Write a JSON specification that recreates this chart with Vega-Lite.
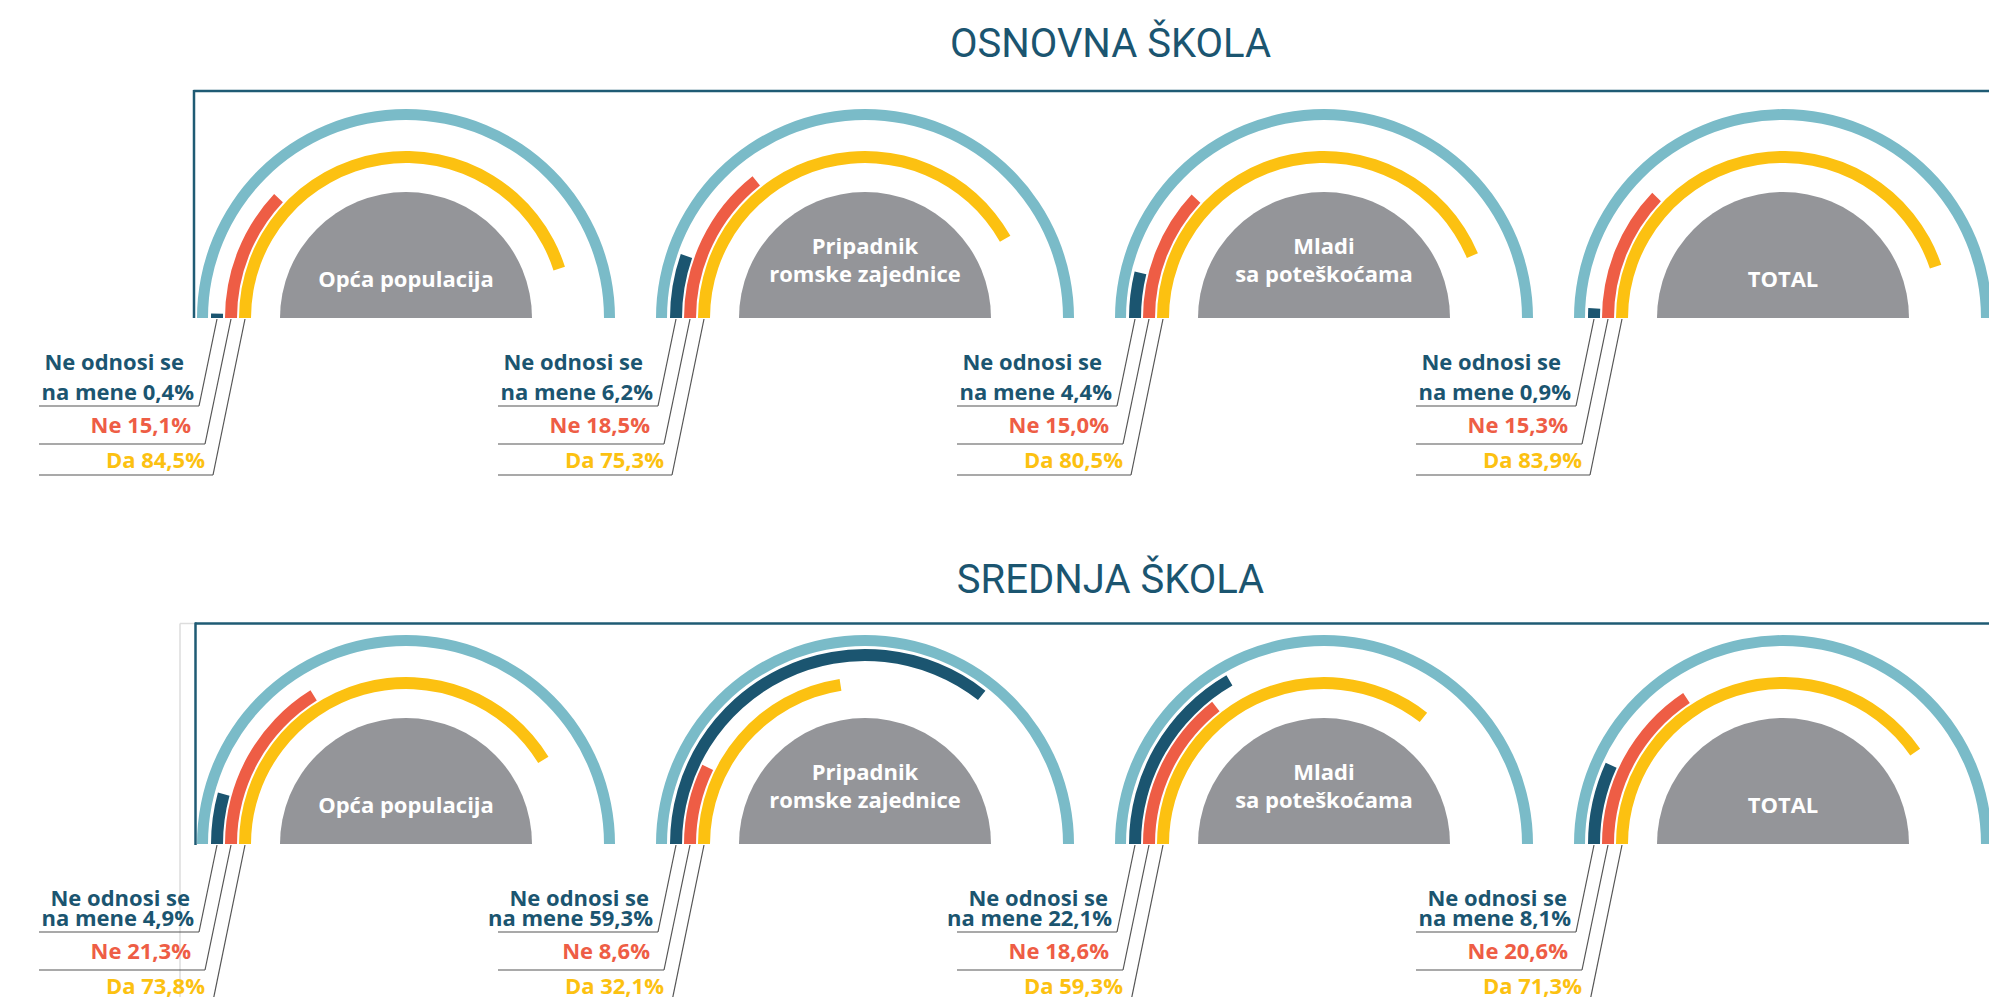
{
  "$schema": "https://vega.github.io/schema/vega-lite/v6.json",
  "width": 1989,
  "height": 997,
  "autosize": {"type": "none"},
  "padding": 0,
  "background": "white",
  "config": {
    "view": {"stroke": null},
    "axis": {"disable": true},
    "text": {"font": "Open Sans"}
  },
  "datasets": {
    "levels": [
      {"level": "OSNOVNA ŠKOLA"},
      {"level": "SREDNJA ŠKOLA"}
    ],
    "gauges": [
      {"level": "OSNOVNA ŠKOLA", "group": "Opća populacija", "name": "Opća populacija", "lines": 1},
      {"level": "OSNOVNA ŠKOLA", "group": "Pripadnik romske zajednice", "name": "Pripadnik\nromske zajednice", "lines": 2},
      {"level": "OSNOVNA ŠKOLA", "group": "Mladi sa poteškoćama", "name": "Mladi\nsa poteškoćama", "lines": 2},
      {"level": "OSNOVNA ŠKOLA", "group": "TOTAL", "name": "TOTAL", "lines": 1},
      {"level": "SREDNJA ŠKOLA", "group": "Opća populacija", "name": "Opća populacija", "lines": 1},
      {"level": "SREDNJA ŠKOLA", "group": "Pripadnik romske zajednice", "name": "Pripadnik\nromske zajednice", "lines": 2},
      {"level": "SREDNJA ŠKOLA", "group": "Mladi sa poteškoćama", "name": "Mladi\nsa poteškoćama", "lines": 2},
      {"level": "SREDNJA ŠKOLA", "group": "TOTAL", "name": "TOTAL", "lines": 1}
    ],
    "values": [
      {"level": "OSNOVNA ŠKOLA", "group": "Opća populacija", "answer": "Ne odnosi se na mene", "value": 0.4, "label": "na mene 0,4%"},
      {"level": "OSNOVNA ŠKOLA", "group": "Opća populacija", "answer": "Ne", "value": 15.1, "label": "Ne 15,1%"},
      {"level": "OSNOVNA ŠKOLA", "group": "Opća populacija", "answer": "Da", "value": 84.5, "label": "Da 84,5%"},
      {"level": "OSNOVNA ŠKOLA", "group": "Pripadnik romske zajednice", "answer": "Ne odnosi se na mene", "value": 6.2, "label": "na mene 6,2%"},
      {"level": "OSNOVNA ŠKOLA", "group": "Pripadnik romske zajednice", "answer": "Ne", "value": 18.5, "label": "Ne 18,5%"},
      {"level": "OSNOVNA ŠKOLA", "group": "Pripadnik romske zajednice", "answer": "Da", "value": 75.3, "label": "Da 75,3%"},
      {"level": "OSNOVNA ŠKOLA", "group": "Mladi sa poteškoćama", "answer": "Ne odnosi se na mene", "value": 4.4, "label": "na mene 4,4%"},
      {"level": "OSNOVNA ŠKOLA", "group": "Mladi sa poteškoćama", "answer": "Ne", "value": 15.0, "label": "Ne 15,0%"},
      {"level": "OSNOVNA ŠKOLA", "group": "Mladi sa poteškoćama", "answer": "Da", "value": 80.5, "label": "Da 80,5%"},
      {"level": "OSNOVNA ŠKOLA", "group": "TOTAL", "answer": "Ne odnosi se na mene", "value": 0.9, "label": "na mene 0,9%"},
      {"level": "OSNOVNA ŠKOLA", "group": "TOTAL", "answer": "Ne", "value": 15.3, "label": "Ne 15,3%"},
      {"level": "OSNOVNA ŠKOLA", "group": "TOTAL", "answer": "Da", "value": 83.9, "label": "Da 83,9%"},
      {"level": "SREDNJA ŠKOLA", "group": "Opća populacija", "answer": "Ne odnosi se na mene", "value": 4.9, "label": "na mene 4,9%"},
      {"level": "SREDNJA ŠKOLA", "group": "Opća populacija", "answer": "Ne", "value": 21.3, "label": "Ne 21,3%"},
      {"level": "SREDNJA ŠKOLA", "group": "Opća populacija", "answer": "Da", "value": 73.8, "label": "Da 73,8%"},
      {"level": "SREDNJA ŠKOLA", "group": "Pripadnik romske zajednice", "answer": "Ne odnosi se na mene", "value": 59.3, "label": "na mene 59,3%"},
      {"level": "SREDNJA ŠKOLA", "group": "Pripadnik romske zajednice", "answer": "Ne", "value": 8.6, "label": "Ne 8,6%"},
      {"level": "SREDNJA ŠKOLA", "group": "Pripadnik romske zajednice", "answer": "Da", "value": 32.1, "label": "Da 32,1%"},
      {"level": "SREDNJA ŠKOLA", "group": "Mladi sa poteškoćama", "answer": "Ne odnosi se na mene", "value": 22.1, "label": "na mene 22,1%"},
      {"level": "SREDNJA ŠKOLA", "group": "Mladi sa poteškoćama", "answer": "Ne", "value": 18.6, "label": "Ne 18,6%"},
      {"level": "SREDNJA ŠKOLA", "group": "Mladi sa poteškoćama", "answer": "Da", "value": 59.3, "label": "Da 59,3%"},
      {"level": "SREDNJA ŠKOLA", "group": "TOTAL", "answer": "Ne odnosi se na mene", "value": 8.1, "label": "na mene 8,1%"},
      {"level": "SREDNJA ŠKOLA", "group": "TOTAL", "answer": "Ne", "value": 20.6, "label": "Ne 20,6%"},
      {"level": "SREDNJA ŠKOLA", "group": "TOTAL", "answer": "Da", "value": 71.3, "label": "Da 71,3%"}
    ]
  },
  "encoding": {
    "x": {
      "field": "group",
      "type": "nominal",
      "scale": {
        "type": "point",
        "domain": ["Opća populacija", "Pripadnik romske zajednice", "Mladi sa poteškoćama", "TOTAL"],
        "range": [406, 1783],
        "padding": 0
      }
    },
    "y": {
      "field": "level",
      "type": "nominal",
      "scale": {
        "type": "point",
        "domain": ["OSNOVNA ŠKOLA", "SREDNJA ŠKOLA"],
        "range": [318, 844],
        "padding": 0
      }
    }
  },
  "layer": [
    {
      "data": {"name": "gauges"},
      "mark": {"type": "arc", "radius": 209, "radius2": 198, "color": "#7abbc8"},
      "encoding": {
        "theta": {"datum": 100, "type": "quantitative", "scale": {"type": "symlog", "constant": 50, "domain": [0, 100], "range": [-1.5707963, 1.5707963]}},
        "theta2": {"datum": 0}
      }
    },
    {
      "data": {"name": "gauges"},
      "mark": {"type": "arc", "radius": 126, "radius2": 0, "color": "#949599"},
      "encoding": {
        "theta": {"datum": 100, "type": "quantitative"},
        "theta2": {"datum": 0}
      }
    },
    {
      "data": {"name": "values"},
      "transform": [{"filter": "datum.answer === 'Ne odnosi se na mene'"}],
      "mark": {"type": "arc", "radius": 195, "radius2": 183, "color": "#1b5570"},
      "encoding": {
        "theta": {"field": "value", "type": "quantitative", "stack": null},
        "theta2": {"datum": 0}
      }
    },
    {
      "data": {"name": "values"},
      "transform": [{"filter": "datum.answer === 'Ne'"}],
      "mark": {"type": "arc", "radius": 181, "radius2": 169, "color": "#ee5d45"},
      "encoding": {
        "theta": {"field": "value", "type": "quantitative", "stack": null},
        "theta2": {"datum": 0}
      }
    },
    {
      "data": {"name": "values"},
      "transform": [{"filter": "datum.answer === 'Da'"}],
      "mark": {"type": "arc", "radius": 167, "radius2": 155, "color": "#fcc111"},
      "encoding": {
        "theta": {"field": "value", "type": "quantitative", "stack": null},
        "theta2": {"datum": 0}
      }
    },
    {
      "data": {"name": "gauges"},
      "transform": [{"filter": "datum.level === 'OSNOVNA ŠKOLA' && datum.group === 'Opća populacija'"}],
      "mark": {"type": "rule", "color": "#1f5b74", "strokeWidth": 2.5, "xOffset": -212.5, "x2Offset": 300, "yOffset": -227, "y2Offset": -227},
      "encoding": {"x2": {"datum": "TOTAL"}, "y2": {"field": "level"}}
    },
    {
      "data": {"name": "gauges"},
      "transform": [{"filter": "datum.level === 'OSNOVNA ŠKOLA' && datum.group === 'Opća populacija'"}],
      "mark": {"type": "rule", "color": "#1f5b74", "strokeWidth": 2.5, "xOffset": -212, "x2Offset": -212, "yOffset": -228, "y2Offset": 0},
      "encoding": {"x2": {"field": "group"}, "y2": {"field": "level"}}
    },
    {
      "data": {"name": "gauges"},
      "transform": [{"filter": "datum.level === 'SREDNJA ŠKOLA' && datum.group === 'Opća populacija'"}],
      "mark": {"type": "rule", "color": "#dddddd", "strokeWidth": 1.5, "xOffset": -226, "x2Offset": -226, "yOffset": -220.5, "y2Offset": 200},
      "encoding": {"x2": {"field": "group"}, "y2": {"field": "level"}}
    },
    {
      "data": {"name": "gauges"},
      "transform": [{"filter": "datum.level === 'SREDNJA ŠKOLA' && datum.group === 'Opća populacija'"}],
      "mark": {"type": "rule", "color": "#dddddd", "strokeWidth": 1.5, "xOffset": -226, "x2Offset": -211, "yOffset": -220.5, "y2Offset": -220.5},
      "encoding": {"x2": {"field": "group"}, "y2": {"field": "level"}}
    },
    {
      "data": {"name": "gauges"},
      "transform": [{"filter": "datum.level === 'SREDNJA ŠKOLA' && datum.group === 'Opća populacija'"}],
      "mark": {"type": "rule", "color": "#1f5b74", "strokeWidth": 2.5, "xOffset": -211, "x2Offset": 300, "yOffset": -220.5, "y2Offset": -220.5},
      "encoding": {"x2": {"datum": "TOTAL"}, "y2": {"field": "level"}}
    },
    {
      "data": {"name": "gauges"},
      "transform": [{"filter": "datum.level === 'SREDNJA ŠKOLA' && datum.group === 'Opća populacija'"}],
      "mark": {"type": "rule", "color": "#1f5b74", "strokeWidth": 2.5, "xOffset": -210.5, "x2Offset": -210.5, "yOffset": -221.5, "y2Offset": 1},
      "encoding": {"x2": {"field": "group"}, "y2": {"field": "level"}}
    },
    {
      "data": {"name": "values"},
      "transform": [{"filter": "datum.answer === 'Ne odnosi se na mene'"}],
      "mark": {"type": "rule", "color": "#555555", "strokeWidth": 1.2, "xOffset": -367, "x2Offset": -207, "yOffset": 88, "y2Offset": 88},
      "encoding": {"x2": {"field": "group"}, "y2": {"field": "level"}}
    },
    {
      "data": {"name": "values"},
      "transform": [{"filter": "datum.answer === 'Ne odnosi se na mene'"}],
      "mark": {"type": "rule", "color": "#555555", "strokeWidth": 1.2, "xOffset": -207, "x2Offset": -189, "yOffset": 88, "y2Offset": 1},
      "encoding": {"x2": {"field": "group"}, "y2": {"field": "level"}}
    },
    {
      "data": {"name": "values"},
      "transform": [{"filter": "datum.answer === 'Ne'"}],
      "mark": {"type": "rule", "color": "#555555", "strokeWidth": 1.2, "xOffset": -367, "x2Offset": -201, "yOffset": 126, "y2Offset": 126},
      "encoding": {"x2": {"field": "group"}, "y2": {"field": "level"}}
    },
    {
      "data": {"name": "values"},
      "transform": [{"filter": "datum.answer === 'Ne'"}],
      "mark": {"type": "rule", "color": "#555555", "strokeWidth": 1.2, "xOffset": -201, "x2Offset": -175, "yOffset": 126, "y2Offset": 1},
      "encoding": {"x2": {"field": "group"}, "y2": {"field": "level"}}
    },
    {
      "data": {"name": "values"},
      "transform": [{"filter": "datum.answer === 'Da'"}],
      "mark": {"type": "rule", "color": "#555555", "strokeWidth": 1.2, "xOffset": -367, "x2Offset": -193, "yOffset": 157, "y2Offset": 157},
      "encoding": {"x2": {"field": "group"}, "y2": {"field": "level"}}
    },
    {
      "data": {"name": "values"},
      "transform": [{"filter": "datum.answer === 'Da'"}],
      "mark": {"type": "rule", "color": "#555555", "strokeWidth": 1.2, "xOffset": -193, "x2Offset": -161, "yOffset": 157, "y2Offset": 1},
      "encoding": {"x2": {"field": "group"}, "y2": {"field": "level"}}
    },
    {
      "data": {"name": "gauges"},
      "transform": [{"filter": "datum.lines === 1"}],
      "mark": {"type": "text", "align": "center", "baseline": "bottom", "dy": -26, "fontSize": 22, "fontWeight": "bold", "color": "white", "font": "Open Sans"},
      "encoding": {"text": {"field": "name"}}
    },
    {
      "data": {"name": "gauges"},
      "transform": [{"filter": "datum.lines === 2"}],
      "mark": {"type": "text", "align": "center", "baseline": "bottom", "dy": -59, "lineBreak": "\n", "lineHeight": 28, "fontSize": 22, "fontWeight": "bold", "color": "white", "font": "Open Sans"},
      "encoding": {"text": {"field": "name"}}
    },
    {
      "data": {"name": "levels"},
      "transform": [{"filter": "datum.level === 'OSNOVNA ŠKOLA'"}],
      "mark": {"type": "text", "align": "center", "baseline": "alphabetic", "dx": 245.5, "dy": -261.3, "fontSize": 40, "font": "Roboto", "fontWeight": 400, "color": "#1b5570"},
      "encoding": {"x": {"datum": "Pripadnik romske zajednice", "type": "nominal"}, "text": {"field": "level"}}
    },
    {
      "data": {"name": "levels"},
      "transform": [{"filter": "datum.level === 'SREDNJA ŠKOLA'"}],
      "mark": {"type": "text", "align": "center", "baseline": "alphabetic", "dx": 245.5, "dy": -251.3, "fontSize": 40, "font": "Roboto", "fontWeight": 400, "color": "#1b5570"},
      "encoding": {"x": {"datum": "Pripadnik romske zajednice", "type": "nominal"}, "text": {"field": "level"}}
    },
    {
      "data": {"name": "values"},
      "transform": [{"filter": "datum.answer === 'Ne odnosi se na mene' && datum.level === 'OSNOVNA ŠKOLA'"}],
      "mark": {"type": "text", "text": "Ne odnosi se", "align": "right", "baseline": "alphabetic", "dx": -222, "dy": 52, "fontSize": 22, "fontWeight": "bold", "color": "#1b5570", "font": "Open Sans"}
    },
    {
      "data": {"name": "values"},
      "transform": [{"filter": "datum.answer === 'Ne odnosi se na mene' && datum.level === 'SREDNJA ŠKOLA'"}],
      "mark": {"type": "text", "text": "Ne odnosi se", "align": "right", "baseline": "alphabetic", "dx": -216, "dy": 62, "fontSize": 22, "fontWeight": "bold", "color": "#1b5570", "font": "Open Sans"}
    },
    {
      "data": {"name": "values"},
      "transform": [{"filter": "datum.answer === 'Ne odnosi se na mene'"}],
      "mark": {"type": "text", "align": "right", "baseline": "alphabetic", "dx": -212, "dy": 82, "fontSize": 22, "fontWeight": "bold", "color": "#1b5570", "font": "Open Sans"},
      "encoding": {"text": {"field": "label"}}
    },
    {
      "data": {"name": "values"},
      "transform": [{"filter": "datum.answer === 'Ne'"}],
      "mark": {"type": "text", "align": "right", "baseline": "alphabetic", "dx": -215, "dy": 115, "fontSize": 22, "fontWeight": "bold", "color": "#ee5d45", "font": "Open Sans"},
      "encoding": {"text": {"field": "label"}}
    },
    {
      "data": {"name": "values"},
      "transform": [{"filter": "datum.answer === 'Da'"}],
      "mark": {"type": "text", "align": "right", "baseline": "alphabetic", "dx": -201, "dy": 150, "fontSize": 22, "fontWeight": "bold", "color": "#fcc111", "font": "Open Sans"},
      "encoding": {"text": {"field": "label"}}
    }
  ]
}
